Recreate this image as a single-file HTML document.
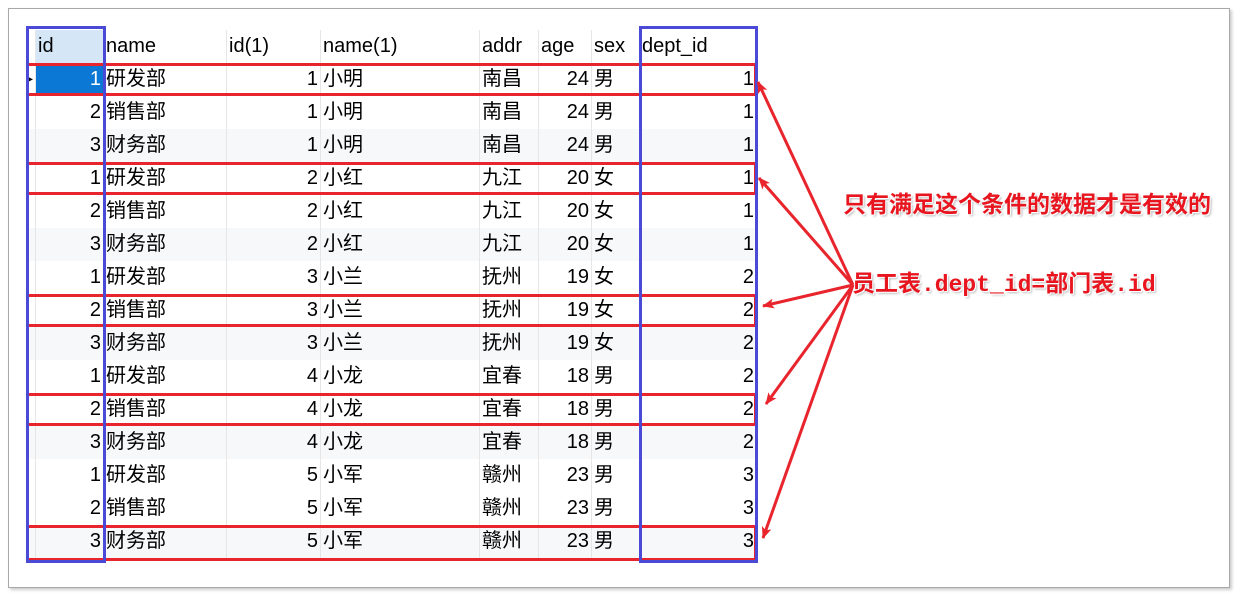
<!DOCTYPE html>
<html><head><meta charset="utf-8"><style>
body{margin:0;width:1241px;height:598px;background:#fff;position:relative;overflow:hidden;font-family:"Liberation Sans","Noto Sans CJK SC",sans-serif;}
.frame{position:absolute;left:8px;top:8px;width:1220px;height:578px;border:1px solid #a8a8a8;box-shadow:2px 2px 3px #ccc;}
table{position:absolute;left:28px;top:30px;border-collapse:separate;border-spacing:0;table-layout:fixed;font-size:20px;color:#000;}
td{height:33px;padding:0 2px;border-right:1px solid #e6e6e6;white-space:nowrap;overflow:hidden;box-sizing:border-box;line-height:33px;}
td.r{text-align:right;}
tr.g td{background:#f7f8fa;}
.abs{position:absolute;box-sizing:border-box;}
.t{position:absolute;color:#e8141e;font-weight:bold;font-size:23px;line-height:26px;text-shadow:1px 1px 0 #fff,2px 2px 2px #bbb;white-space:nowrap;}
</style></head><body>
<div class="frame"></div>
<table>
<colgroup><col style="width:8px"><col style="width:68px"><col style="width:123px"><col style="width:94px"><col style="width:159px"><col style="width:59px"><col style="width:53px"><col style="width:48px"><col style="width:117px"></colgroup>
<tr><td></td><td style="background:#d5e7f7">id</td><td>name</td><td>id(1)</td><td>name(1)</td><td>addr</td><td>age</td><td>sex</td><td>dept_id</td></tr>
<tr><td style="font-size:10px;padding:0">▸</td><td class="r" style="background:#0a78d4;color:#fff">1</td><td>研发部</td><td class="r">1</td><td>小明</td><td>南昌</td><td class="r">24</td><td>男</td><td class="r">1</td></tr>
<tr><td></td><td class="r">2</td><td>销售部</td><td class="r">1</td><td>小明</td><td>南昌</td><td class="r">24</td><td>男</td><td class="r">1</td></tr>
<tr class="g"><td></td><td class="r">3</td><td>财务部</td><td class="r">1</td><td>小明</td><td>南昌</td><td class="r">24</td><td>男</td><td class="r">1</td></tr>
<tr><td></td><td class="r">1</td><td>研发部</td><td class="r">2</td><td>小红</td><td>九江</td><td class="r">20</td><td>女</td><td class="r">1</td></tr>
<tr><td></td><td class="r">2</td><td>销售部</td><td class="r">2</td><td>小红</td><td>九江</td><td class="r">20</td><td>女</td><td class="r">1</td></tr>
<tr class="g"><td></td><td class="r">3</td><td>财务部</td><td class="r">2</td><td>小红</td><td>九江</td><td class="r">20</td><td>女</td><td class="r">1</td></tr>
<tr><td></td><td class="r">1</td><td>研发部</td><td class="r">3</td><td>小兰</td><td>抚州</td><td class="r">19</td><td>女</td><td class="r">2</td></tr>
<tr><td></td><td class="r">2</td><td>销售部</td><td class="r">3</td><td>小兰</td><td>抚州</td><td class="r">19</td><td>女</td><td class="r">2</td></tr>
<tr class="g"><td></td><td class="r">3</td><td>财务部</td><td class="r">3</td><td>小兰</td><td>抚州</td><td class="r">19</td><td>女</td><td class="r">2</td></tr>
<tr><td></td><td class="r">1</td><td>研发部</td><td class="r">4</td><td>小龙</td><td>宜春</td><td class="r">18</td><td>男</td><td class="r">2</td></tr>
<tr><td></td><td class="r">2</td><td>销售部</td><td class="r">4</td><td>小龙</td><td>宜春</td><td class="r">18</td><td>男</td><td class="r">2</td></tr>
<tr class="g"><td></td><td class="r">3</td><td>财务部</td><td class="r">4</td><td>小龙</td><td>宜春</td><td class="r">18</td><td>男</td><td class="r">2</td></tr>
<tr><td></td><td class="r">1</td><td>研发部</td><td class="r">5</td><td>小军</td><td>赣州</td><td class="r">23</td><td>男</td><td class="r">3</td></tr>
<tr><td></td><td class="r">2</td><td>销售部</td><td class="r">5</td><td>小军</td><td>赣州</td><td class="r">23</td><td>男</td><td class="r">3</td></tr>
<tr class="g"><td></td><td class="r">3</td><td>财务部</td><td class="r">5</td><td>小军</td><td>赣州</td><td class="r">23</td><td>男</td><td class="r">3</td></tr>
</table>
<div class="abs" style="left:26px;top:63px;width:731px;height:33px;border:3px solid #e8242c"></div>
<div class="abs" style="left:26px;top:162px;width:731px;height:33px;border:3px solid #e8242c"></div>
<div class="abs" style="left:26px;top:294px;width:731px;height:33px;border:3px solid #e8242c"></div>
<div class="abs" style="left:26px;top:393px;width:731px;height:33px;border:3px solid #e8242c"></div>
<div class="abs" style="left:26px;top:525px;width:731px;height:36px;border:3px solid #e8242c"></div>
<div class="abs" style="left:26px;top:26px;width:80px;height:537px;border:3px solid #4a4ad6"></div>
<div class="abs" style="left:639px;top:26px;width:119px;height:537px;border:3px solid #4a4ad6"></div>
<svg class="abs" style="left:0;top:0" width="1241" height="598">
<defs><marker id="a" markerWidth="12" markerHeight="10" refX="11" refY="5" orient="auto" markerUnits="userSpaceOnUse"><path d="M0,0 L12,5 L0,10 L3,5 Z" fill="#e8242c"/></marker></defs>
<g stroke="#e8242c" stroke-width="3" fill="none" marker-end="url(#a)">
<line x1="853" y1="285" x2="758" y2="82"/>
<line x1="853" y1="285" x2="759" y2="178"/>
<line x1="853" y1="285" x2="763" y2="306"/>
<line x1="853" y1="285" x2="766" y2="404"/>
<line x1="853" y1="285" x2="763" y2="538"/>
</g>
</svg>
<div class="t" style="left:843px;top:191px;">只有满足这个条件的数据才是有效的</div>
<div class="t" style="left:852px;top:272px;font-family:'Liberation Mono','Noto Sans CJK SC',monospace;">员工表.dept_id=部门表.id</div>
</body></html>
